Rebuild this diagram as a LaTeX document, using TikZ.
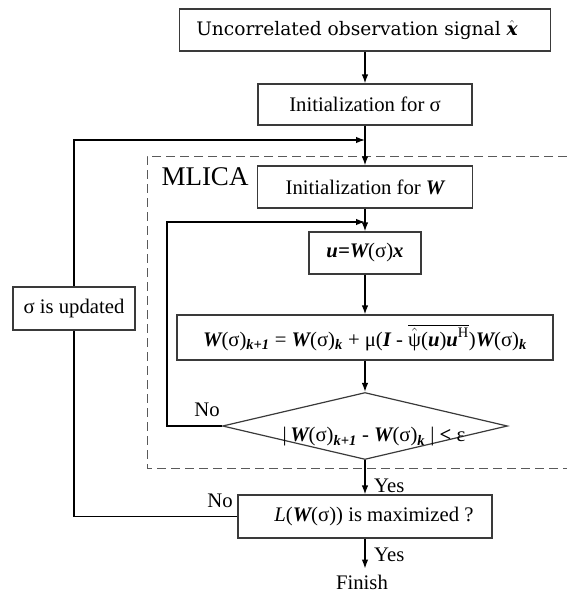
\documentclass[tikz,border=0pt]{standalone}
\usepackage{amsmath}
\usepackage{fontspec}
\setmainfont{Liberation Serif}
\newfontfamily\headfont{DejaVu Serif}
\usetikzlibrary{arrows.meta,shapes.geometric}
\newcommand\bi[1]{{\bfseries\itshape #1}}
\newcommand\bsub[1]{$_{\text{\bi{#1}}}$}
\definecolor{boxgray}{HTML}{3A3A3A}
\definecolor{dashgray}{HTML}{5A5A5A}
\begin{document}
\begin{tikzpicture}[x=1pt,y=-1pt,
  txt/.style={font=\fontsize{20.7pt}{24pt}\selectfont, inner sep=0pt},
  box/.style={txt, draw=boxgray, line width=1.2pt, rectangle},
  wire/.style={line width=1.3pt, black},
  arr/.style={wire, -{Latex[length=9pt,width=6.5pt]}},
  frame/.style={draw=dashgray, line width=1pt, dash pattern=on 9pt off 5pt}]
\useasboundingbox (0,0) rectangle (567,600);

% MLICA frame (open on the right)
\draw[frame] (567,156) -- (147,156) -- (147,468) -- (567,468);
\node[txt, font=\fontsize{27pt}{30pt}\selectfont] (mlica) at (205,177) {MLICA};

% main column
\node[box, minimum width=371pt, minimum height=42pt, font=\headfont\fontsize{18.6pt}{22pt}\selectfont]
  (obs) at (365,30) {\hspace{-16pt}Uncorrelated observation signal $\hat{\raisebox{0pt}[10pt]{\bi{x}}}$};
\node[box, minimum width=214pt, minimum height=41pt] (isig) at (365,104.5) {Initialization for σ};
\node[box, minimum width=215pt, minimum height=42pt] (iw) at (365,187) {Initialization for \bi{W}};
\node[box, minimum width=112pt, minimum height=42pt] (ux) at (365,253) {\bi{u=W}(σ)\bi{x}};
\node[box, minimum width=376pt, minimum height=45pt] (upd) at (365,337.5)
  {\bi{W}(σ)\bsub{k+1} = \bi{W}(σ)\bsub{k} + μ(\bi{I} - $\overline{\hat{\text{ψ}}\text{(\bi{u})\bi{u}}^{\text{H}}}$)\bi{W}(σ)\bsub{k}};
\node[diamond, draw=boxgray, line width=1.2pt, minimum width=285pt, minimum height=67pt, inner sep=0pt]
  (conv) at (365,426) {};
\node[txt] (convtxt) at (374,437) {|\,\bi{W}(σ)\bsub{k+1} - \bi{W}(σ)\bsub{k} | \textbf{<} ε};
\node[box, minimum width=254pt, minimum height=43pt] (lik) at (365,516.5)
  {\hspace{18pt}\textit{L}(\bi{W}(σ)) is maximized ?};
\node[txt] (fin) at (362,582) {Finish};

% side box on the outer loop
\node[box, minimum width=122pt, minimum height=43pt] (sup) at (74,308.5) {σ is updated};

% junction points on the main column
\coordinate (j1) at (365,140);
\coordinate (j2) at (365,222);
\coordinate (c2) at (167,222);

% labels
\node[txt, anchor=west] (yes1) at (374,486) {Yes};
\node[txt, anchor=west] (yes2) at (374,555) {Yes};
\node[txt] (no1) at (207,410) {No};
\node[txt] (no2) at (220,501) {No};

% connectors
\draw[arr] (obs) -- (isig);
\draw[arr] (isig) -- (iw);
\draw[arr] (iw) -- (ux);
\draw[arr] (ux) -- (upd);
\draw[arr] (upd) -- (conv);
\draw[arr] (conv) -- (lik);
\draw[arr] (lik.south) -- ++(0,30);

% inner loop
\draw[arr] (conv.west) -| (c2) -- (j2);
% outer loop
\draw[wire] (lik.west) -| (sup.south);
\draw[arr] (sup.north) |- (j1);
\end{tikzpicture}
\end{document}
